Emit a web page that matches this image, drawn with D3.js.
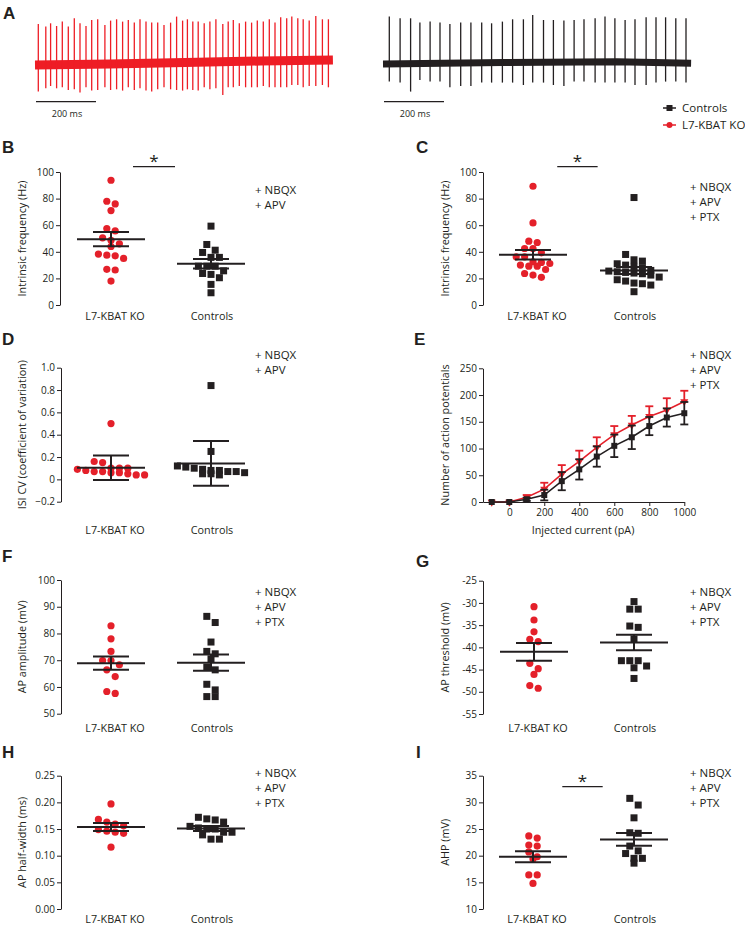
<!DOCTYPE html>
<html><head><meta charset="utf-8">
<script src="https://cdn.jsdelivr.net/npm/d3@7"></script>
<style>
body{margin:0;background:#fff}
svg{display:block}
text{font-family:"Open Sans",sans-serif;fill:#231f20}
</style>
</head><body>
<svg id="fig" width="745" height="927"></svg>
<script>
// ---------------- DATA ----------------
const catNames = ["L7-KBAT KO", "Controls"];
const seriesNames = ["Controls", "L7-KBAT KO"];

// Panel A: spike times (ms), peak (up) and trough (down) amplitudes, baseline drift
const koSpikeTimes = [11,36,52,72,91,111,131,150,170,189,209,233,252,272,292,311,331,350,370,389,409,430,452,472,492,508,526,544,564,583,603,626,644,661,681,702,722,741,761,781,800,819,839,856,876,894,914,936,958,978];
const koSpikeUp = [39.3,36.7,40,37.3,41.7,36.7,45,40,37.3,43.3,44,38.3,42.7,44,41.7,43.3,40.7,44,41.7,40.7,40.7,38.3,40.7,46.7,42.7,44,41.7,41.7,40,41.7,44,39.3,41.7,43.3,40,41.7,40.7,42.7,41.7,44,40.7,46,45,46.7,45,44,42.7,47.3,44,44];
const koSpikeDown = [-28.3,-25,-22.7,-25,-24,-26.7,-26,-29.3,-24,-27.3,-26.7,-24,-26.7,-26,-27.3,-24,-26.7,-25,-27.3,-28.3,-26,-24,-26,-26.7,-27.3,-26,-26.7,-27.3,-24,-26,-25,-31.7,-24,-24,-22.7,-24,-24,-24,-22.7,-24,-24,-24,-24,-21.7,-21.7,-24,-22.7,-22.7,-21.7,-24];
const koBaseT = [0,250,500,750,993];
const koBaseV = [-1.7,-0.7,0.7,2.3,3.3];

const ctrlSpikeTimes = [21,57,92,123,157,190,223,259,293,329,362,398,432,468,499,535,568,603,637,670,707,740,773,807,840,877,910,942,976,1010];
const ctrlSpikeUp = [46.7,45,45,40.7,41.7,40.7,39.3,40.7,40.7,40.7,40,41.7,44,44,48.3,43.3,43.3,42.7,43.3,44,45,46.7,45,43.3,44,46,46,46,45,45];
const ctrlSpikeDown = [-18.3,-19.3,-28.3,-16.7,-18.3,-18.3,-24,-22.7,-22.7,-19.3,-19.3,-19.3,-19.3,-21.7,-19.3,-19.3,-21.7,-22.7,-18.3,-18.3,-19.3,-19.3,-19.3,-19.3,-21.7,-21.7,-19.3,-18.3,-18.3,-19.3];
const ctrlBaseT = [0,400,780,1027];
const ctrlBaseV = [-0.7,0.7,1.5,0];

// Panel B: intrinsic frequency (Hz), +NBQX +APV
const bKO = [93.8,78,76,71,57.5,55.7,50.5,48.7,46,44,38.3,37.5,37,35,26.8,26.3,18];
const bCtrl = [59.3,45.5,41.2,39.5,35.8,35.8,29.2,29.2,29.2,25.7,23.7,23,20.5,15.5,9.2];
const bMean = [49.5,31]; const bErr = [5.3,3.5];

// Panel C: intrinsic frequency (Hz), +NBQX +APV +PTX
const cKO = [89.3,61.7,48,47,42.5,42.5,39.2,36.2,36.2,32.5,32,31.2,30,29.2,29.2,26.7,23.7,22.5,20.8];
const cCtrl = [80.8,38,34,33,31,30,29,28,26,25.5,25,24.5,24,23.5,22.5,21,19,18,16.5,16,15,10];
const cMean = [37.8,26]; const cErr = [3.5,2.6];

// Panel D: ISI CV
const dKO = [0.50,0.16,0.15,0.10,0.10,0.10,0.09,0.08,0.07,0.07,0.06,0.06,0.05,0.04,0.04];
const dCtrl = [0.84,0.25,0.12,0.11,0.10,0.09,0.08,0.08,0.07,0.07,0.06,0.05,0.05,0.04];
const dMean = [0.104,0.143]; const dErr = [0.11,0.2];

// Panel E: number of APs vs injected current
const eCurrent = [-100,0,100,200,300,400,500,600,700,800,900,1000];
const eCtrlMean = [0,0,5,13,39,61,85,105,121,142,158,166];
const eCtrlErr = [0,0,3,10,17,19,19,21,22,17,17,21];
const eKOMean = [0,0,9,24,52,76,102,126,144,160,172,188];
const eKOErr = [0,0,4,12,17,20,19,16,17,19,22,20];

// Panel F: AP amplitude (mV)
const fKO = [82.9,78,73.3,69.9,69.9,68.3,66.4,63.9,58.3,57.6];
const fCtrl = [86.4,84.1,76.8,73.3,72.4,70.5,67.4,66.4,61,58.9,56.4,56.4];
const fMean = [68.9,69.1]; const fErr = [2.5,3.0];

// Panel G: AP threshold (mV)
const gKO = [-30.85,-33.85,-36.5,-38.2,-38.7,-43.6,-44.8,-46.1,-48.6,-49.2];
const gCtrl = [-29.7,-31.4,-31.4,-35.2,-35.5,-38.1,-43.0,-43.0,-43.0,-44.2,-44.6,-47.0];
const gMean = [-41.0,-38.9]; const gErr = [2.0,1.75];

// Panel H: AP half-width (ms)
const hKO = [0.197,0.168,0.163,0.159,0.156,0.149,0.146,0.144,0.142,0.116];
const hCtrl = [0.172,0.169,0.167,0.163,0.155,0.152,0.150,0.150,0.144,0.144,0.139,0.131,0.131];
const hMean = [0.154,0.151]; const hErr = [0.0075,0.0045];

// Panel I: AHP (mV)
const iKO = [23.7,23.3,22.0,21.8,20.7,19.8,19.4,16.4,16.4,14.8];
const iCtrl = [30.75,29.5,27.1,24.3,24.2,21.8,20.9,20.4,19.5,19.5,18.6];
const iMean = [19.8,23.05]; const iErr = [1.05,1.2];

const drugs2 = ["+ NBQX","+ APV"];
const drugs3 = ["+ NBQX","+ APV","+ PTX"];

// ---------------- DRAWING ----------------
const RED = "#e4202a", BLACK = "#231f20", TRACE_RED = "#ee1d25";
const svg = d3.select("#fig");

function panelLetter(t, x, y){
  svg.append("text").attr("x",x).attr("y",y).text(t)
    .style("font-family","'Liberation Sans',Arial,sans-serif").style("font-weight","bold").style("font-size","17px");
}
function drugText(lines, x, y){
  lines.forEach((l,i)=>svg.append("text").attr("x",x).attr("y",y+i*15).attr("dy","0.35em")
    .style("font-size","11.5px").text(l));
}

// ---- Panel A ----
function trace(times, up, down, baseT, baseV, x0, col, bandW){
  const x = d3.scaleLinear().domain([0,1000]).range([x0, x0+300]);
  const y = d3.scaleLinear().domain([-40,50]).range([103.3,13.3]);
  const g = svg.append("g");
  const base = d3.scaleLinear().domain(baseT).range(baseV);
  g.append("path").datum(baseT)
    .attr("d", d3.line().x(t=>x(t)).y(t=>y(base(t))))
    .attr("fill","none").attr("stroke",col).attr("stroke-width",bandW);
  g.selectAll("line.sp").data(times).join("line")
    .attr("x1",t=>x(t)).attr("x2",t=>x(t))
    .attr("y1",(t,i)=>y(down[i])).attr("y2",(t,i)=>y(up[i]))
    .attr("stroke",col).attr("stroke-width",1.3);
  // scale bar 200 ms
  g.append("line").attr("x1",x(0)+1).attr("x2",x(200)+1).attr("y1",101.7).attr("y2",101.7)
    .attr("stroke",BLACK).attr("stroke-width",1.3);
  g.append("text").attr("x",(x(0)+x(200))/2+2).attr("y",113.5).attr("dy","0.35em")
    .attr("text-anchor","middle").style("font-size","9px").text("200 ms");
}
panelLetter("A",3,19);
trace(koSpikeTimes, koSpikeUp, koSpikeDown, koBaseT, koBaseV, 35, TRACE_RED, 9);
trace(ctrlSpikeTimes, ctrlSpikeUp, ctrlSpikeDown, ctrlBaseT, ctrlBaseV, 383, BLACK, 7);

// legend
const lg = svg.append("g");
seriesNames.forEach((n,i)=>{
  const yy = 108 + i*17, col = i===0?BLACK:RED;
  lg.append("line").attr("x1",663).attr("x2",676).attr("y1",yy).attr("y2",yy).attr("stroke",col).attr("stroke-width",1.5);
  if(i===0) lg.append("rect").attr("x",666.5).attr("y",yy-3).attr("width",6).attr("height",6).attr("fill",col);
  else lg.append("circle").attr("cx",669.5).attr("cy",yy).attr("r",3).attr("fill",col);
  lg.append("text").attr("x",682).attr("y",yy).attr("dy","0.35em").style("font-size","11.5px").text(n);
});

// ---- scatter panels ----
function swarm(values, y, spacing, tol){
  const pts = values.map((v,i)=>({i, py:y(v)})).sort((a,b)=>a.py-b.py);
  const out = new Array(values.length); let grp=[];
  const flush=()=>{grp.forEach((p,j)=>out[p.i]=(j-(grp.length-1)/2)*spacing); grp=[];};
  pts.forEach(p=>{ if(grp.length && p.py-grp[0].py>tol) flush(); grp.push(p); });
  flush(); return out;
}
function yAxis(ax, y, ticks, fmt){
  const g = svg.append("g").attr("transform",`translate(${ax},0)`);
  g.call(d3.axisLeft(y).tickValues(ticks).tickFormat(fmt).tickSizeInner(4).tickSizeOuter(0).tickPadding(2));
  g.select(".domain").attr("stroke",BLACK);
  g.selectAll(".tick line").attr("stroke",BLACK);
  g.selectAll(".tick text").style("font-family","'Open Sans',sans-serif").style("font-size","10px").attr("fill",BLACK);
  return g;
}
function yTitle(t, x, yc){
  svg.append("text").attr("transform",`translate(${x},${yc}) rotate(-90)`).attr("text-anchor","middle")
    .style("font-size","10.8px").text(t);
}
function scatterPanel(p){
  const y = d3.scaleLinear().domain(p.domain).range(p.range);
  const xs = d3.scalePoint().domain(catNames).range(p.cats);
  yAxis(p.ax, y, p.ticks, p.fmt);
  yTitle(p.title, p.ax<300?26:449, (p.range[0]+p.range[1])/2);
  const g = svg.append("g");
  [p.ko, p.ctrl].forEach((vals,k)=>{
    const off = swarm(vals, y, 8.4, 6.8);
    const cx = xs(catNames[k]);
    if(k===0){
      g.selectAll(null).data(vals).join("circle")
        .attr("cx",(d,i)=>cx+off[i]).attr("cy",d=>y(d)).attr("r",3.6).attr("fill",RED);
    } else {
      g.selectAll(null).data(vals).join("rect")
        .attr("x",(d,i)=>cx+off[i]-3.5).attr("y",d=>y(d)-3.5).attr("width",7).attr("height",7).attr("fill",BLACK);
    }
  });
  catNames.forEach((c,k)=>{
    const cx = xs(c), m = p.mean[k], e = p.err[k];
    const L = (x1,y1,x2,y2)=>g.append("line").attr("x1",x1).attr("y1",y1).attr("x2",x2).attr("y2",y2)
      .attr("stroke",BLACK).attr("stroke-width",2);
    L(cx-34,y(m),cx+34,y(m));
    L(cx,y(m-e),cx,y(m+e));
    L(cx-18,y(m+e),cx+18,y(m+e));
    L(cx-18,y(m-e),cx+18,y(m-e));
    svg.append("text").attr("x",cx+(k===0?4:1)).attr("y",p.labelY).attr("dy","0.35em")
      .attr("text-anchor","middle").style("font-size","10.8px").text(c);
  });
  if(p.sig){
    const x1 = p.cats[0]+(p.cats[1]-p.cats[0])*p.sig[0], x2 = p.cats[0]+(p.cats[1]-p.cats[0])*p.sig[1];
    svg.append("line").attr("x1",x1).attr("x2",x2).attr("y1",p.sig[2]).attr("y2",p.sig[2]).attr("stroke",BLACK).attr("stroke-width",1.2);
    svg.append("text").attr("x",(x1+x2)/2).attr("y",p.sig[2]).attr("text-anchor","middle").style("font-size","17px").text("*");
  }
  drugText(p.drugs, p.dx, p.dy);
}
const fmtInt = d3.format("d");
const tickRange = (a,b,s)=>d3.range(a,b+s/2,s);

panelLetter("B",2,153);
scatterPanel({ax:60,domain:[0,100],range:[305,172],ticks:tickRange(0,100,20),fmt:fmtInt,cats:[111,211],
  ko:bKO,ctrl:bCtrl,mean:bMean,err:bErr,title:"Intrinsic frequency (Hz)",labelY:316,sig:[0.22,0.64,166.7],drugs:drugs2,dx:255,dy:190});
panelLetter("C",416,153);
scatterPanel({ax:483,domain:[0,100],range:[305,172],ticks:tickRange(0,100,20),fmt:fmtInt,cats:[533,634],
  ko:cKO,ctrl:cCtrl,mean:cMean,err:cErr,title:"Intrinsic frequency (Hz)",labelY:316,sig:[0.24,0.64,166.7],drugs:drugs3,dx:690,dy:187});
panelLetter("D",2,345);
scatterPanel({ax:61,domain:[-0.2,1.0],range:[501.7,367.7],ticks:tickRange(-0.2,1.0,0.2).map(v=>Math.round(v*10)/10),
  fmt:v=>v===0?"0":d3.format(".1f")(v),cats:[111,211],
  ko:dKO,ctrl:dCtrl,mean:dMean,err:dErr,title:"ISI CV (coefficient of variation)",labelY:530,drugs:drugs2,dx:255,dy:355});
panelLetter("F",2,562);
scatterPanel({ax:61,domain:[50,100],range:[713.7,580],ticks:tickRange(50,100,10),fmt:fmtInt,cats:[111,211],
  ko:fKO,ctrl:fCtrl,mean:fMean,err:fErr,title:"AP amplitude (mV)",labelY:728.3,drugs:drugs3,dx:255,dy:591.7});
panelLetter("G",416,567);
scatterPanel({ax:483,domain:[-55,-25],range:[714,580.7],ticks:tickRange(-55,-25,5),fmt:v=>String(v),cats:[534,634],
  ko:gKO,ctrl:gCtrl,mean:gMean,err:gErr,title:"AP threshold (mV)",labelY:728.3,drugs:drugs3,dx:690,dy:591.7});
panelLetter("H",2,758);
scatterPanel({ax:61,domain:[0,0.25],range:[909,775.7],ticks:tickRange(0,0.25,0.05).map(v=>Math.round(v*100)/100),fmt:d3.format(".2f"),cats:[111,211],
  ko:hKO,ctrl:hCtrl,mean:hMean,err:hErr,title:"AP half-width (ms)",labelY:919,drugs:drugs3,dx:255,dy:773.3});
panelLetter("I",416,758);
scatterPanel({ax:483,domain:[10,35],range:[909,775.7],ticks:tickRange(10,35,5),fmt:fmtInt,cats:[533,634],
  ko:iKO,ctrl:iCtrl,mean:iMean,err:iErr,title:"AHP (mV)",labelY:919,sig:[0.29,0.69,786.7],drugs:drugs3,dx:690,dy:773.3});

// ---- Panel E ----
panelLetter("E",414,345);
(function(){
  const x = d3.scaleLinear().domain([-150,1000]).range([483,684.3]);
  const y = d3.scaleLinear().domain([0,250]).range([502,368.3]);
  yAxis(483, y, tickRange(0,250,50), fmtInt);
  const gx = svg.append("g").attr("transform","translate(0,502)");
  gx.call(d3.axisBottom(x).tickValues(tickRange(0,1000,200)).tickFormat(fmtInt).tickSizeInner(4).tickSizeOuter(0).tickPadding(3));
  gx.select(".domain").attr("stroke",BLACK);
  gx.selectAll(".tick line").attr("stroke",BLACK);
  gx.selectAll(".tick text").style("font-family","'Open Sans',sans-serif").style("font-size","10px").attr("fill",BLACK);
  svg.append("text").attr("x",583).attr("y",530).attr("dy","0.35em").attr("text-anchor","middle").style("font-size","10.8px").text("Injected current (pA)");
  yTitle("Number of action potentials", 449, 435);
  const g = svg.append("g");
  const line = d3.line().x((d,i)=>x(eCurrent[i])).y(d=>y(d));
  // KO (red): upper error bars only
  eKOMean.forEach((m,i)=>{
    const e = eKOErr[i]; if(!e) return;
    const xx = x(eCurrent[i]);
    g.append("line").attr("x1",xx).attr("x2",xx).attr("y1",y(m)).attr("y2",y(m+e)).attr("stroke",RED).attr("stroke-width",1.8);
    g.append("line").attr("x1",xx-4).attr("x2",xx+4).attr("y1",y(m+e)).attr("y2",y(m+e)).attr("stroke",RED).attr("stroke-width",1.8);
  });
  g.append("path").datum(eKOMean).attr("d",line).attr("fill","none").attr("stroke",RED).attr("stroke-width",1.6);
  g.selectAll(null).data(eKOMean).join("path")
    .attr("d",d3.symbol(d3.symbolTriangle,28)).attr("transform",(d,i)=>`translate(${x(eCurrent[i])},${y(d)}) rotate(180)`)
    .attr("fill",RED);
  // Controls (black)
  eCtrlMean.forEach((m,i)=>{
    const e = eCtrlErr[i]; if(!e) return;
    const xx = x(eCurrent[i]);
    g.append("line").attr("x1",xx).attr("x2",xx).attr("y1",y(m-e)).attr("y2",y(m+e)).attr("stroke",BLACK).attr("stroke-width",1.8);
    [m-e,m+e].forEach(v=>g.append("line").attr("x1",xx-4).attr("x2",xx+4).attr("y1",y(v)).attr("y2",y(v)).attr("stroke",BLACK).attr("stroke-width",1.8));
  });
  g.append("path").datum(eCtrlMean).attr("d",line).attr("fill","none").attr("stroke",BLACK).attr("stroke-width",1.6);
  g.selectAll(null).data(eCtrlMean).join("rect")
    .attr("x",(d,i)=>x(eCurrent[i])-3).attr("y",d=>y(d)-3).attr("width",6).attr("height",6).attr("fill",BLACK);
  drugText(drugs3, 690, 355);
})();
</script>
</body></html>
